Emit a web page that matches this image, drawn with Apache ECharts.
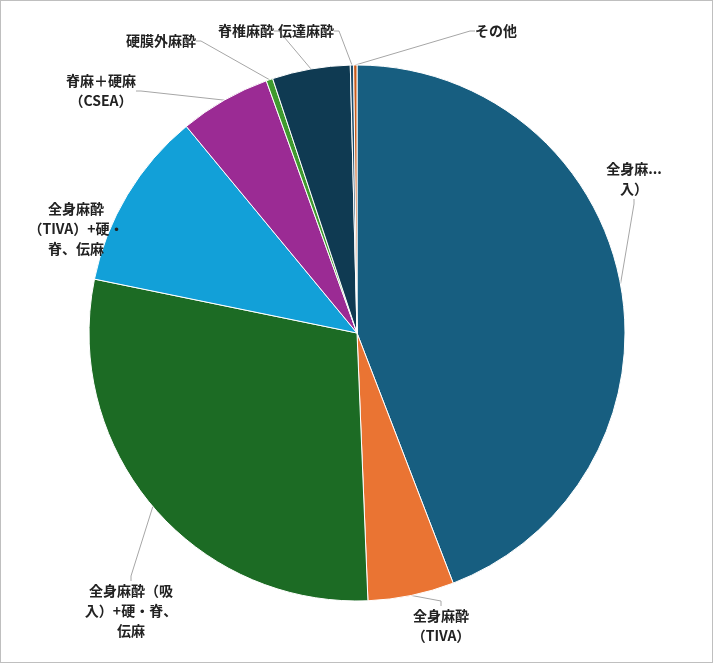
<!DOCTYPE html>
<html><head><meta charset="utf-8">
<script src="https://cdn.jsdelivr.net/npm/echarts@6/dist/echarts.min.js"></script>
<style>html,body{margin:0;padding:0;background:#fff}#c{width:711px;height:661px;border:1px solid #bfbfbf}</style>
</head><body><div id="c"></div>
<script>
const categories = ['全身麻酔（吸\n入）','全身麻酔\n（TIVA）','全身麻酔（吸\n入）+硬・脊、\n伝麻','全身麻酔\n（TIVA）+硬・\n脊、伝麻','脊麻＋硬麻\n（CSEA）','硬膜外麻酔','脊椎麻酔','伝達麻酔','その他'];
const values = [44.2,5.2,28.9,10.8,5.5,0.4,4.7,0.2,0.2];
const colors = ['#175e80','#ea7433','#1c6b24','#12a0d8','#9b2b94','#3f9a2e','#0f3a52','#1e4d6b','#c85a1a'];
const labelPos = [[633,178],[440,625],[130,610],[75,228],[100,90],[160,40],[245,30],[305,30],[495,30]];
const chart = echarts.init(document.getElementById('c'));
chart.setOption({
  animation:false,
  series:[{
    type:'pie', center:[356,332], radius:268, startAngle:90, clockwise:true,
    data: categories.map((n,i)=>({name:n,value:values[i],itemStyle:{color:colors[i]}})),
    itemStyle:{borderColor:'#fff',borderWidth:1},
    label:{show:true,position:'outside',color:'#222',fontSize:14,fontWeight:'bold',lineHeight:20,
      fontFamily:'"Noto Sans CJK JP", "Liberation Serif", serif',formatter:'{b}',align:'center'},
    labelLine:{show:true,length:5,length2:5,lineStyle:{color:'#a6a6a6',width:1}},
    labelLayout:function(p){const q=labelPos[p.dataIndex];return {x:q[0],y:q[1],align:'center',verticalAlign:'middle'};}
  }]
});
</script></body></html>
